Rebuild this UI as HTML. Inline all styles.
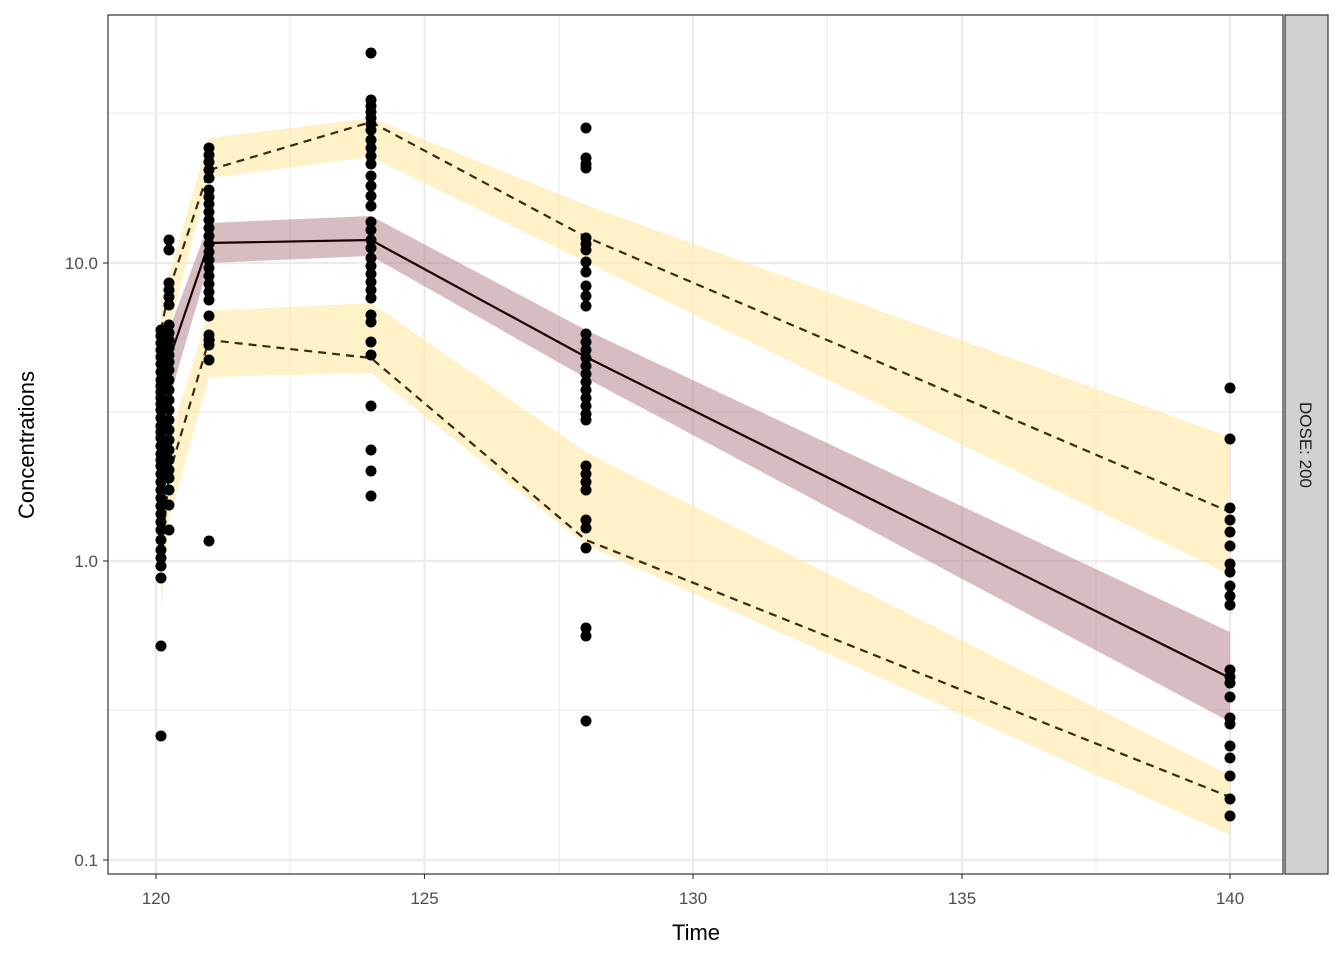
<!DOCTYPE html>
<html><head><meta charset="utf-8"><style>
body{margin:0;background:#fff;}
svg{display:block;font-family:"Liberation Sans",Arial,sans-serif;}
</style></head><body>
<svg id="s" width="1344" height="960" viewBox="0 0 1344 960">
<rect width="1344" height="960" fill="#fff"/>
<!-- minor grid -->
<g stroke="#ebebeb" stroke-width="1.1">
<line x1="108" x2="1283" y1="113" y2="113"/><line x1="108" x2="1283" y1="412" y2="412"/><line x1="108" x2="1283" y1="710" y2="710"/>
<line y1="15" y2="874" x1="290" x2="290"/><line y1="15" y2="874" x1="559" x2="559"/><line y1="15" y2="874" x1="827" x2="827"/><line y1="15" y2="874" x1="1096" x2="1096"/>
</g>
<g stroke="#ebebeb" stroke-width="2.2">
<line x1="108" x2="1283" y1="263" y2="263"/><line x1="108" x2="1283" y1="561" y2="561"/><line x1="108" x2="1283" y1="860" y2="860"/>
<line y1="15" y2="874" x1="156" x2="156"/><line y1="15" y2="874" x1="424.5" x2="424.5"/><line y1="15" y2="874" x1="693" x2="693"/><line y1="15" y2="874" x1="962" x2="962"/><line y1="15" y2="874" x1="1230" x2="1230"/>
</g>
<!-- bands -->
<polygon fill="#ffeaaa" fill-opacity="0.65" points="161,300 169,275 209,138 371,118 586,205 1230,437 1230,575 586,262 371,157 209,178 169,330 161,360"/>
<polygon fill="#ffeaaa" fill-opacity="0.65" points="161,500 169,440 209,311 371,303 586,452 1230,775 1230,835 586,545 371,373 209,377 169,520 161,610"/>
<polygon fill="#b07a86" fill-opacity="0.5" points="161,360 169,330 209,223 371,216 586,330 1230,632 1230,722 586,378 371,256 209,263 169,400 161,440"/>
<polyline fill="none" stroke="#1a0000" stroke-width="2.2" points="161,400 169,360 209,243 371,240 586,357 1230,678"/>
<polyline fill="none" stroke="#3a2a10" stroke-width="2.2" stroke-dasharray="8,6" points="161,330 169,290 209,170 371,122 586,237 1230,512"/>
<polyline fill="none" stroke="#3a2a10" stroke-width="2.2" stroke-dasharray="8,6" points="161,560 169,475 209,340 371,358 586,540 1230,797"/>
<g id="pts" fill="#000"></g>
<rect x="108" y="15" width="1175" height="859" fill="none" stroke="#333" stroke-width="1.2"/>
<rect x="1285" y="15" width="43" height="859" fill="#d0d0d0" stroke="#333" stroke-width="1.2"/>
<text transform="translate(1300,445) rotate(90)" font-size="17" fill="#1a1a1a" text-anchor="middle">DOSE: 200</text>
<g stroke="#333" stroke-width="1.1">
<line x1="103" x2="108" y1="263" y2="263"/><line x1="103" x2="108" y1="561" y2="561"/><line x1="103" x2="108" y1="860" y2="860"/>
<line y1="874" y2="879" x1="156" x2="156"/><line y1="874" y2="879" x1="424.5" x2="424.5"/><line y1="874" y2="879" x1="693" x2="693"/><line y1="874" y2="879" x1="962" x2="962"/><line y1="874" y2="879" x1="1230" x2="1230"/>
</g>
<g font-size="17" fill="#4d4d4d" text-anchor="end">
<text x="98" y="269">10.0</text><text x="98" y="567">1.0</text><text x="98" y="866">0.1</text>
</g>
<g font-size="17" fill="#4d4d4d" text-anchor="middle">
<text x="156" y="904">120</text><text x="424.5" y="904">125</text><text x="693" y="904">130</text><text x="962" y="904">135</text><text x="1230" y="904">140</text>
</g>
<text x="696" y="940" font-size="22" text-anchor="middle" fill="#000">Time</text>
<text transform="translate(34,445) rotate(-90)" font-size="22" text-anchor="middle" fill="#000">Concentrations</text>
</svg>
<script>
var cols={
161:[330,336,343,350,357,364,372,380,386,392,398,404,410,418,426,432,438,446,454,460,466,474,482,490,498,506,514,522,530,540,550,558,566,578,646,736],
169:[240,250,283,290,297,305,325,333,340,348,355,362,370,380,390,400,410,420,430,440,450,460,470,478,490,505,530],
209:[148,155,162,170,178,190,197,204,212,220,228,236,244,252,260,268,276,284,292,300,316,335,340,345,360,541],
371:[53,100,106,112,118,124,130,140,148,156,164,176,186,196,206,222,230,240,248,258,266,274,282,290,298,315,322,342,355,406,450,471,496],
586:[128,158,164,168,238,244,250,262,272,286,296,306,334,342,350,358,366,374,382,390,398,406,414,420,466,474,482,490,520,528,548,628,636,721],
1230:[388,439,508,520,532,546,564,572,586,596,605,670,677,683,697,718,724,746,758,776,799,816]};
var g=document.getElementById('pts'),h='';
for(var x in cols)cols[x].forEach(function(y){h+='<circle cx="'+x+'" cy="'+y+'" r="5.5"/>';});
g.innerHTML=h;
</script>
</body></html>
